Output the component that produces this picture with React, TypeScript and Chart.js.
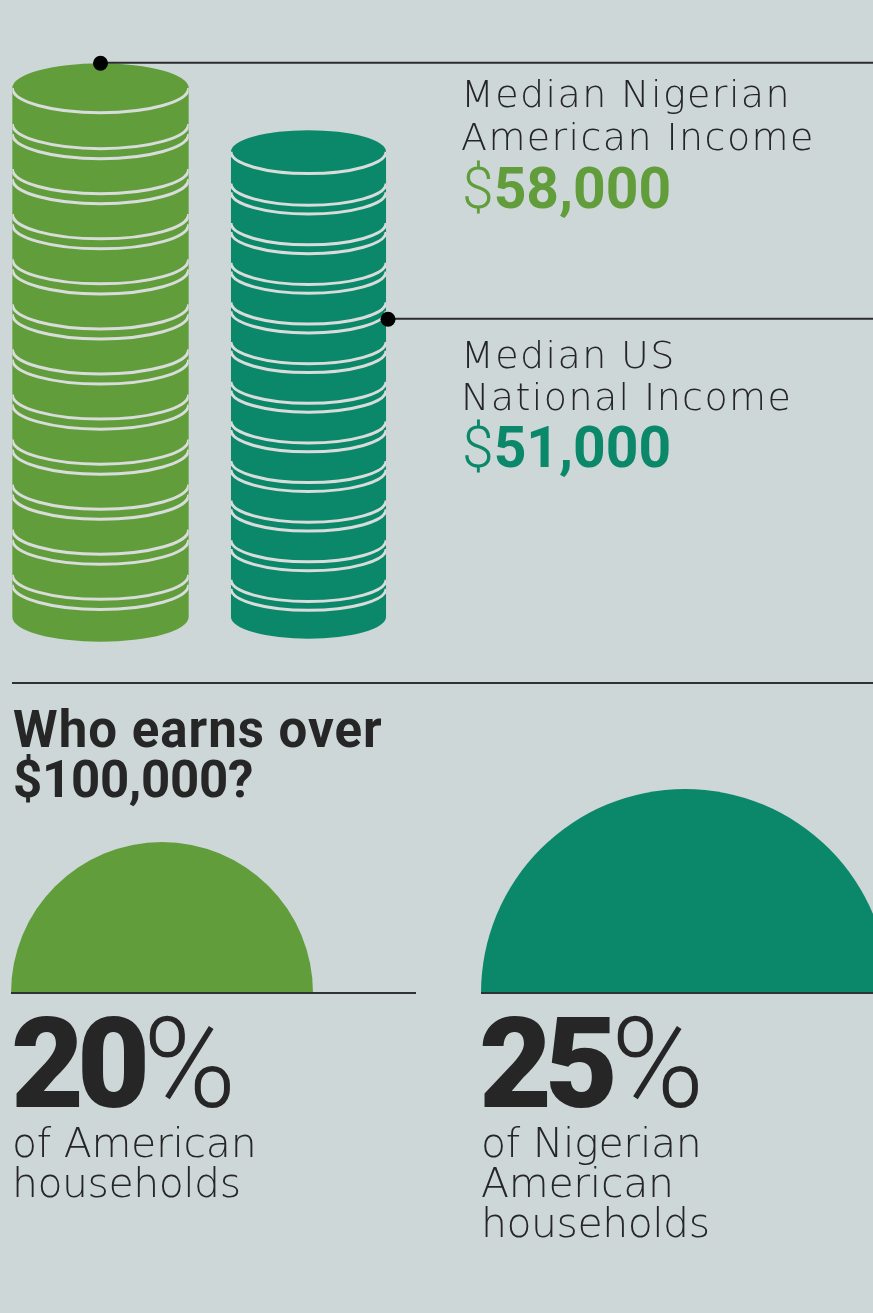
import React, { useEffect, useRef } from 'react';
import { Chart, registerables } from 'chart.js';
Chart.register(...registerables);

// ---- data ----
const incomeGroups = ['Median Nigerian American Income', 'Median US National Income'];
const medianIncome = [58000, 51000];
const incomeValueLabels = ['58,000', '51,000'];
const shareGroups = ['of American households', 'of Nigerian American households'];
const shareOver100k = [20, 25];

// ---- styles ----
const BG = '#cdd7d8';
const GREEN = '#629d3b';
const TEAL = '#0b876a';
const INK = '#262626';
const COIN_LINE = '#d8dcdb';
const THIN = '"DejaVu Sans", sans-serif';
const BOLD = 'Roboto, sans-serif';

const stackColors = [GREEN, TEAL];

const coinPlugin = {
  id: 'coinStacks',
  afterDatasetsDraw(chart: any) {
    const ctx = chart.ctx as CanvasRenderingContext2D;
    const meta = chart.getDatasetMeta(0);
    const pts: any[] = [];
    meta.data.forEach((bar: any, i: number) => {
      const { x, y, base } = bar.getProps(['x', 'y', 'base'], true);
      const H = base - y;
      const w = H / 3;
      const rx = w / 2;
      const ry = w * 0.14;
      ctx.save();
      ctx.beginPath();
      ctx.ellipse(x, y, rx, ry, 0, Math.PI, 2 * Math.PI);
      ctx.lineTo(x + rx, base);
      ctx.ellipse(x, base, rx, ry, 0, 0, Math.PI);
      ctx.closePath();
      ctx.fillStyle = stackColors[i];
      ctx.fill();
      ctx.clip();
      ctx.strokeStyle = COIN_LINE;
      ctx.lineWidth = 3;
      const arc = (cy: number) => {
        ctx.beginPath();
        ctx.ellipse(x, cy, rx, ry, 0, 0, Math.PI);
        ctx.stroke();
      };
      arc(y);
      for (let k = 0; k < 11; k++) {
        const o = 0.068 + k * 0.0852;
        arc(y + H * o);
        arc(y + H * (o + 0.019));
      }
      ctx.restore();
      pts.push({ x, y, base, H, rx, ry });
    });
    // leader lines
    const right = chart.width;
    const anchors = [
      { x: pts[0].x, y: pts[0].y - pts[0].ry },
      { x: pts[1].x + pts[1].rx + 2, y: pts[1].y + pts[1].H * 0.36 },
    ];
    ctx.save();
    anchors.forEach((a) => {
      ctx.strokeStyle = '#2b2b2b';
      ctx.lineWidth = 2;
      ctx.beginPath();
      ctx.moveTo(a.x, a.y - 0.5);
      ctx.lineTo(right, a.y - 0.5);
      ctx.stroke();
      ctx.fillStyle = '#000';
      ctx.beginPath();
      ctx.arc(a.x, a.y, 7.5, 0, Math.PI * 2);
      ctx.fill();
    });
    ctx.restore();
  },
};

function CoinChart() {
  const ref = useRef<HTMLCanvasElement>(null);
  useEffect(() => {
    const chart = new Chart(ref.current!, {
      type: 'bar',
      data: {
        labels: incomeGroups,
        datasets: [{ data: medianIncome, backgroundColor: 'rgba(0,0,0,0)', borderWidth: 0 }],
      },
      options: {
        animation: false,
        responsive: false,
        layout: { padding: { top: 88, bottom: 43, left: 100.5, right: 564.5 } },
        scales: {
          x: { display: false, offset: false },
          y: { display: false, min: 0, max: 58000 },
        },
        plugins: { legend: { display: false }, tooltip: { enabled: false } },
      },
      plugins: [coinPlugin],
    } as any);
    return () => chart.destroy();
  }, []);
  return (
    <canvas
      ref={ref}
      width={873}
      height={660}
      style={{ position: 'absolute', left: 0, top: 0, width: 873, height: 660 }}
    />
  );
}

function HalfDisc({ idx, left, top, r }: { idx: number; left: number; top: number; r: number }) {
  const ref = useRef<HTMLCanvasElement>(null);
  useEffect(() => {
    const chart = new Chart(ref.current!, {
      type: 'pie',
      data: {
        labels: [shareGroups[idx]],
        datasets: [{ data: [shareOver100k[idx]], backgroundColor: [stackColors[idx]], borderWidth: 0 }],
      },
      options: {
        animation: false,
        responsive: false,
        rotation: -90,
        circumference: 180,
        layout: { padding: 0 },
        plugins: { legend: { display: false }, tooltip: { enabled: false } },
      },
    } as any);
    return () => chart.destroy();
  }, [idx]);
  return (
    <canvas
      ref={ref}
      width={2 * r}
      height={r}
      style={{ position: 'absolute', left, top, width: 2 * r, height: r }}
    />
  );
}

function Txt({
  x, base, size, family = THIN, weight = 200, color = INK, ls = 0, children,
}: any) {
  const k = family === BOLD ? 0.342 : 0.346;
  return (
    <div
      style={{
        position: 'absolute',
        left: x,
        top: base - k * size,
        lineHeight: 0,
        fontSize: size,
        fontFamily: family,
        fontWeight: weight,
        color,
        letterSpacing: ls,
        whiteSpace: 'nowrap',
      }}
    >
      {children}
    </div>
  );
}

function Rule({ x1, x2, y, h = 2 }: any) {
  return (
    <div style={{ position: 'absolute', left: x1, top: y - h / 2, width: x2 - x1, height: h, background: '#2e3232' }} />
  );
}

export default function App() {
  useEffect(() => {
    document.body.style.margin = '0';
  }, []);
  return (
    <div
      style={{
        position: 'absolute',
        left: 0,
        top: 0,
        width: 873,
        height: 1313,
        background: BG,
        overflow: 'hidden',
      }}
    >
      <CoinChart />

      <Txt x={461} base={107} size={38} ls={1.4}>Median Nigerian</Txt>
      <Txt x={461} base={150} size={38} ls={1.4}>American Income</Txt>
      <Txt x={462} base={208} size={57} family={BOLD} weight={700} color={GREEN}>
        <span style={{ fontWeight: 300 }}>$</span>{incomeValueLabels[0]}
      </Txt>

      <Txt x={461} base={368} size={38} ls={1.4}>Median US</Txt>
      <Txt x={461} base={410} size={38} ls={1.4}>National Income</Txt>
      <Txt x={462} base={467} size={57} family={BOLD} weight={700} color={TEAL}>
        <span style={{ fontWeight: 300 }}>$</span>{incomeValueLabels[1]}
      </Txt>

      <Rule x1={12} x2={873} y={683} h={1.5} />

      <Txt x={13} base={747} size={51} family={BOLD} weight={700} ls={1}>Who earns over</Txt>
      <Txt x={13} base={797} size={51} family={BOLD} weight={700} ls={-0.3}>$100,000?</Txt>

      <HalfDisc idx={0} left={11} top={842} r={151} />
      <HalfDisc idx={1} left={481} top={789} r={204} />
      <Rule x1={11} x2={416} y={993} />
      <Rule x1={481} x2={873} y={993} />

      <Txt x={11} base={1107} size={126} family={BOLD} weight={900} ls={-7}>
        {shareOver100k[0]}<span style={{ fontWeight: 300, letterSpacing: 0 }}>%</span>
      </Txt>
      <Txt x={12} base={1157} size={41} ls={-0.3}>of American</Txt>
      <Txt x={12} base={1197} size={41} ls={-0.5}>households</Txt>

      <Txt x={479} base={1107} size={126} family={BOLD} weight={900} ls={-7}>
        {shareOver100k[1]}<span style={{ fontWeight: 300, letterSpacing: 0 }}>%</span>
      </Txt>
      <Txt x={481} base={1157} size={41} ls={-0.3}>of Nigerian</Txt>
      <Txt x={481} base={1197} size={41} ls={-0.3}>American</Txt>
      <Txt x={481} base={1237} size={41} ls={-0.5}>households</Txt>
    </div>
  );
}
